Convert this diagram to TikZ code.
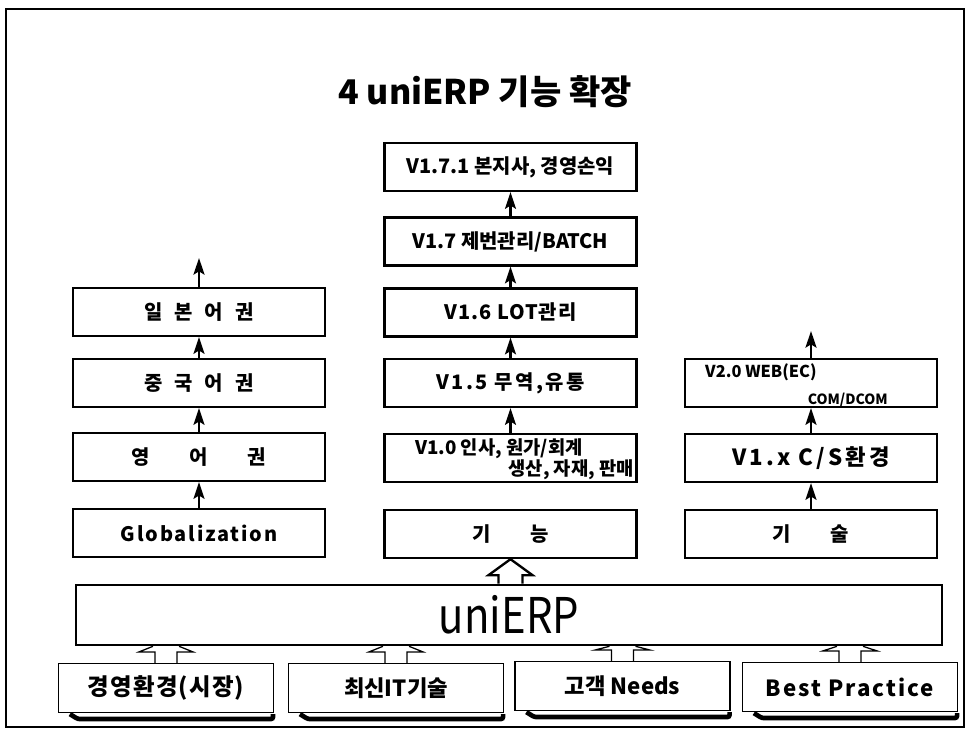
\documentclass[tikz,border=0pt]{standalone}
\usepackage{fontspec}
\setmainfont{Noto Sans CJK KR}
\usetikzlibrary{arrows.meta,calc}

\newcommand{\labfont}{\bfseries\fontsize{17}{20}\selectfont}

% hollow arrow from a base box up into the uniERP bar
\newcommand{\baseup}[1]{%
  \draw[hollow] ($(#1.north |- uni.south)+(-13,0)$) -- ($(#1.north)+(-27,-11)$) -- ($(#1.north)+(-11,-11)$) -- ($(#1.north)+(-11,0)$);
  \draw[hollow] ($(#1.north |- uni.south)+(13,0)$) -- ($(#1.north)+(27,-11)$) -- ($(#1.north)+(11,-11)$) -- ($(#1.north)+(11,0)$);
  \draw[tray] ($(#1.south west)+(12,1)$) -- ($(#1.south west)+(20,6)$) -- ($(#1.south east)+(-1,6)$) -- ($(#1.south east)+(-1,1)$);
}

\begin{document}
\begin{tikzpicture}[x=0.03cm,y=-0.03cm,
    verbox/.style={draw,line width=2pt,minimum width=7.56cm,minimum height=1.44cm,inner sep=0pt,font=\labfont},
    spaced/.style={verbox,font={\labfont\spaceskip=0.6em\relax}},
    wider/.style={verbox,font={\labfont\spaceskip=2em\relax}},
    basebox/.style={draw,line width=1pt,minimum width=6.45cm,minimum height=1.47cm,inner sep=0pt,font=\bfseries\fontsize{19}{22}\selectfont},
    up/.style={line width=1.9pt,-{Stealth[length=5mm,width=3.3mm,inset=1mm]}},
    hollow/.style={line width=1.1pt},
    tray/.style={line width=4pt,rounded corners=2pt}]
  \useasboundingbox (0,0) rectangle (968,731);
  \draw[line width=1.8pt] (6,9) rectangle (964,727);

  \node[font=\bfseries\fontsize{29}{32}\selectfont] (title) at (485,92) {4 uniERP 기능 확장};

  % centre column
  \node[verbox] (v171) at (510.5,167) {V1.7.1 본지사, 경영손익};
  \node[verbox] (v17) at (510.5,241.5) {V1.7 제번관리/BATCH};
  \node[verbox,font={\labfont\addfontfeatures{LetterSpace=5}}] (v16) at (510.5,312.5) {V1.6 LOT관리};
  \node[verbox,font={\labfont\addfontfeatures{LetterSpace=12}}] (v15) at (510.5,383) {V1.5 무역,유통};
  \node[verbox] (v10) at (510.5,458) {};
  \node[anchor=west,inner sep=0pt,font=\bfseries\fontsize{16}{18}\selectfont] (v10a) at (415,449) {V1.0 인사, 원가/회계};
  \node[anchor=east,inner sep=0pt,font=\bfseries\fontsize{16}{18}\selectfont] (v10b) at (634,470) {생산, 자재, 판매};
  \node[wider] (func) at (510.5,534) {기 능};

  % left column
  \node[spaced] (jpn) at (199,312) {일 본 어 권};
  \node[spaced] (chn) at (199,383) {중 국 어 권};
  \node[wider] (eng) at (199,457) {영 어 권};
  \node[verbox,font={\labfont\addfontfeatures{LetterSpace=9}}] (glob) at (199,533) {Globalization};
  \coordinate (jtop) at (199,258);

  % right column
  \node[verbox] (v20) at (811,383) {};
  \node[anchor=west,inner sep=0pt,font=\bfseries\fontsize{14}{16}\selectfont] (v20a) at (705,372) {V2.0 WEB(EC)};
  \node[anchor=base east,inner sep=0pt,font=\bfseries\fontsize{12}{14}\selectfont] (v20b) at (888,404) {COM/DCOM};
  \node[verbox,font={\bfseries\fontsize{19}{22}\selectfont\addfontfeatures{LetterSpace=14}}] (v1x) at (811,458) {V1.x C/S환경};
  \node[wider] (tech) at (811,534) {기 술};
  \coordinate (wtop) at (811,331);

  \draw[up] (v10.north) -- (v15.south);
  \draw[up] (v15.north) -- (v16.south);
  \draw[up] (v16.north) -- (v17.south);
  \draw[up] (v17.north) -- (v171.south);
  \draw[up] (glob.north) -- (eng.south);
  \draw[up] (eng.north) -- (chn.south);
  \draw[up] (chn.north) -- (jpn.south);
  \draw[up] (jpn.north) -- (jtop);
  \draw[up] (tech.north) -- (v1x.south);
  \draw[up] (v1x.north) -- (v20.south);
  \draw[up] (v20.north) -- (wtop);

  % base
  \node[draw,line width=2.2pt,minimum width=25.98cm,minimum height=1.8cm,inner sep=0pt,font=\fontsize{42}{44}\selectfont] (uni) at (509,615) {\scalebox{0.85}[1]{uniERP}};
  \draw[line width=2pt] ($(func.south |- uni.north)+(-12,0)$) -- ($(func.south)+(-12,16)$) -- ($(func.south)+(-22,16)$) -- (func.south)
    -- ($(func.south)+(22,16)$) -- ($(func.south)+(12,16)$) -- ($(func.south |- uni.north)+(12,0)$);

  \node[basebox,font={\bfseries\fontsize{20}{22}\selectfont\addfontfeatures{LetterSpace=5}}] (b1) at (166,688) {경영환경(시장)};
  \node[basebox] (b2) at (396,688) {최신IT기술};
  \node[basebox] (b3) at (622.5,686) {고객 Needs};
  \node[basebox,font={\bfseries\fontsize{19}{22}\selectfont\addfontfeatures{LetterSpace=9}}] (b4) at (850,687) {Best Practice};
  \baseup{b1}
  \baseup{b2}
  \baseup{b3}
  \baseup{b4}
\end{tikzpicture}
\end{document}
